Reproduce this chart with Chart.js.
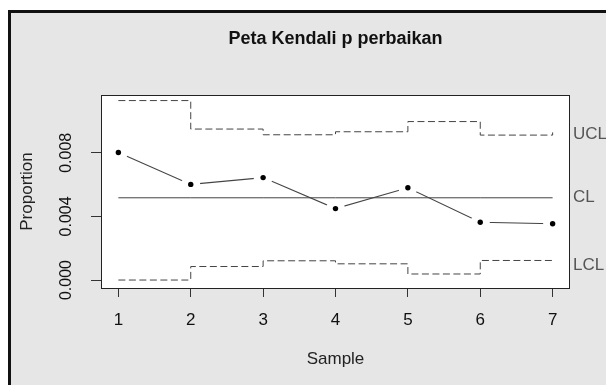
<!DOCTYPE html>
<html lang="id">
<head>
    <meta charset="UTF-8">
    <title>Peta Kendali p perbaikan</title>
    <script src="https://cdn.jsdelivr.net/npm/chart.js"></script>
    <style>
        body { margin: 0; background: #ffffff; }
        #frame {
            position: absolute; left: 8px; top: 10px;
            width: 620px; height: 400px;
            border-left: 3px solid #111; border-top: 3px solid #111;
            background: #e6e6e6;
        }
        #pchart { position: absolute; left: 0; top: 0; }
    </style>
</head>
<body>
    <div id="frame"></div>
    <canvas id="pchart" width="606" height="385"></canvas>

    <script>
        // data
        const samples = [1, 2, 3, 4, 5, 6, 7];
        const proportion = [0.00802, 0.00601, 0.00644, 0.00449, 0.00580, 0.00363, 0.00354];
        const centerLine = 0.00517;
        const ucl = [0.01128, 0.00949, 0.00913, 0.00932, 0.00996, 0.00911, 0.00928];
        const lcl = [0.00000, 0.00085, 0.00121, 0.00102, 0.00038, 0.00123, 0.00106];
        const yTickValues = [0, 0.002, 0.004, 0.006, 0.008, 0.010];
        const yTickLabels = ['0.000', '', '0.004', '', '0.008', ''];

        const pts = arr => samples.map((s, i) => ({ x: s, y: arr[i] }));

        // plot background, box, title and the limit labels on the right
        const decor = {
            id: 'decor',
            beforeDatasetsDraw(chart) {
                const { ctx, chartArea: a } = chart;
                ctx.save();
                ctx.fillStyle = '#ffffff';
                ctx.fillRect(a.left, a.top, a.right - a.left, a.bottom - a.top);
                ctx.restore();
            },
            afterDraw(chart) {
                const { ctx, chartArea: a, scales } = chart;
                ctx.save();
                ctx.strokeStyle = '#222';
                ctx.lineWidth = 1;
                ctx.strokeRect(a.left + 0.5, a.top + 0.5, a.right - a.left - 1, a.bottom - a.top);

                ctx.fillStyle = '#111';
                ctx.font = 'bold 18px "Liberation Sans", Arial, sans-serif';
                ctx.textAlign = 'center';
                ctx.textBaseline = 'middle';
                ctx.fillText('Peta Kendali p perbaikan', (a.left + a.right) / 2, 39);

                ctx.fillStyle = '#555';
                ctx.font = '17px "Liberation Sans", Arial, sans-serif';
                ctx.textAlign = 'left';
                const last = samples.length - 1;
                ctx.fillText('UCL', a.right + 3, scales.y.getPixelForValue(ucl[last]) + 2);
                ctx.fillText('CL', a.right + 3, scales.y.getPixelForValue(centerLine));
                ctx.fillText('LCL', a.right + 3, scales.y.getPixelForValue(lcl[last]) + 2);
                ctx.restore();
            }
        };

        const limitStyle = {
            borderColor: '#444', borderWidth: 1, borderDash: [7, 3.5],
            pointRadius: 0, stepped: 'before', fill: false
        };

        new Chart(document.getElementById('pchart'), {
            type: 'line',
            data: {
                datasets: [
                    { data: pts(proportion), showLine: false, pointRadius: 2.7,
                      pointBackgroundColor: '#000', pointBorderWidth: 0, order: 0 },
                    Object.assign({ data: pts(ucl), order: 1 }, limitStyle),
                    Object.assign({ data: pts(lcl), order: 1 }, limitStyle),
                    { data: samples.map(s => ({ x: s, y: centerLine })), borderColor: '#444',
                      borderWidth: 1, pointRadius: 0, order: 1 },
                    // white discs leave the small gaps round each point
                    { data: pts(proportion), showLine: false, pointRadius: 9.5,
                      pointBackgroundColor: '#fff', pointBorderWidth: 0, order: 2 },
                    { data: pts(proportion), borderColor: '#444', borderWidth: 1.1,
                      pointRadius: 0, order: 3 }
                ]
            },
            options: {
                responsive: false,
                animation: false,
                devicePixelRatio: 1,
                layout: { padding: { top: 95, right: 36, left: 0, bottom: 0 } },
                plugins: { legend: { display: false }, tooltip: { enabled: false } },
                scales: {
                    x: {
                        type: 'linear', min: 0.76, max: 7.24,
                        afterFit: s => { s.height = 97; },
                        afterBuildTicks: s => { s.ticks = samples.map(v => ({ value: v })); },
                        grid: { drawOnChartArea: false, tickLength: 9, color: '#333' },
                        border: { display: false },
                        ticks: { color: '#111', padding: 13,
                                 font: { family: '"Liberation Sans", Arial', size: 17 } },
                        title: { display: true, text: 'Sample', color: '#222', padding: { bottom: 15 },
                                 font: { family: '"Liberation Sans", Arial', size: 17 } }
                    },
                    y: {
                        type: 'linear', min: -0.0005, max: 0.01163,
                        afterFit: s => { s.width = 101; },
                        afterBuildTicks: s => { s.ticks = yTickValues.map(v => ({ value: v })); },
                        grid: { drawOnChartArea: false, tickLength: 10, color: '#333' },
                        border: { display: false },
                        ticks: {
                            color: '#111', padding: 4, minRotation: 90, maxRotation: 90,
                            crossAlign: 'center',
                            font: { family: '"Liberation Sans", Arial', size: 16 },
                            callback: (v, i) => yTickLabels[i]
                        },
                        title: { display: true, text: 'Proportion', color: '#222', padding: { top: 17 },
                                 font: { family: '"Liberation Sans", Arial', size: 17 } }
                    }
                }
            },
            plugins: [decor]
        });
    </script>
</body>
</html>
